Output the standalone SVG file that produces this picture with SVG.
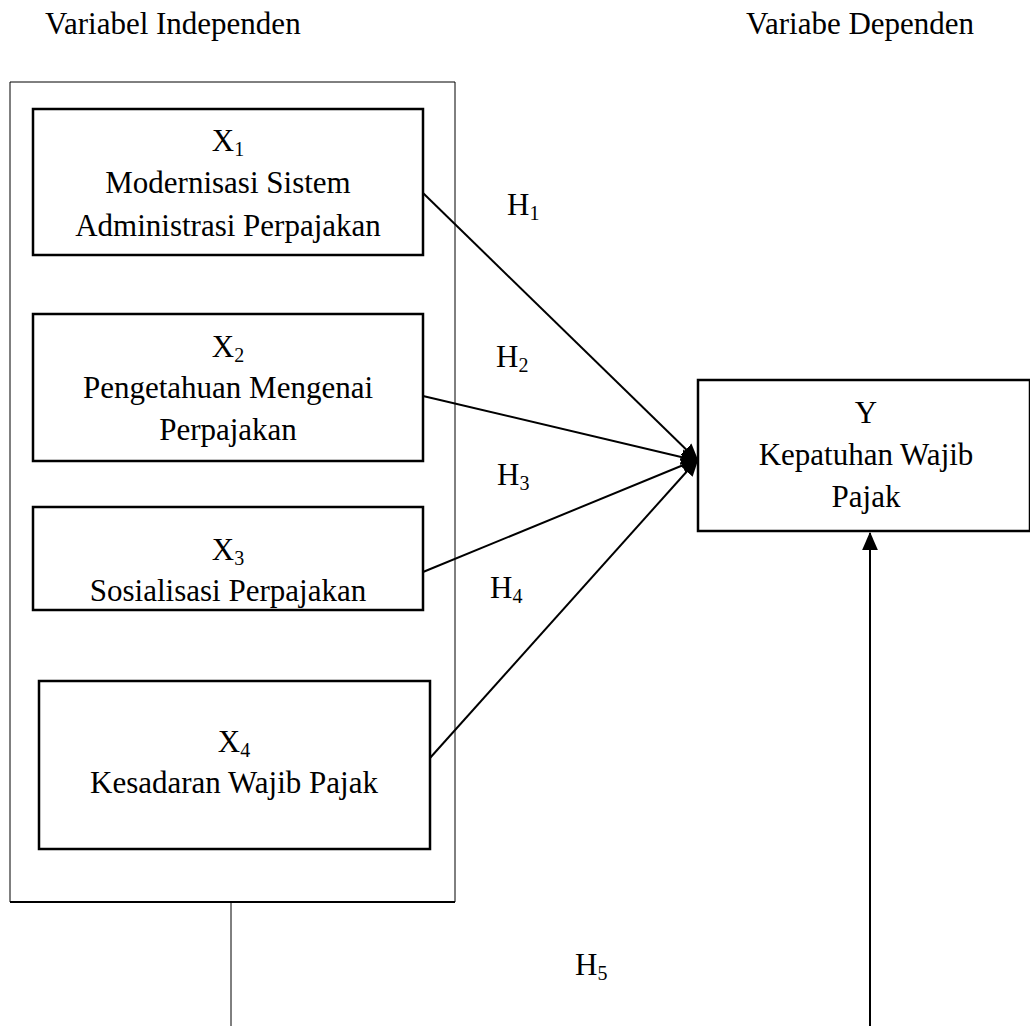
<svg xmlns="http://www.w3.org/2000/svg" width="1030" height="1026" viewBox="0 0 1030 1026">
<style>
text{font-family:"Liberation Serif","Times New Roman",serif;font-size:31px;fill:#000}
.c{text-anchor:middle}
.sub{font-size:20px}
.box{fill:#fff;stroke:#000;stroke-width:2.5}
.con{fill:none;stroke:#000;stroke-width:2}
</style>
<defs>
<marker id="ah" markerUnits="userSpaceOnUse" markerWidth="18" markerHeight="18" viewBox="0 0 16 16" refX="15" refY="8" orient="auto">
<path d="M0,1 L16,8 L0,15 Z" fill="#000"/>
</marker>
</defs>
<rect width="1030" height="1026" fill="#fff"/>
<g id="headers">
<text x="45" y="34">Variabel Independen</text>
<text x="746" y="34">Variabe Dependen</text>
</g>
<g id="group-independen">
<path d="M10,902 L10,82 L455,82 L455,902" fill="none" stroke="#000" stroke-width="1"/>
<line x1="10" y1="902" x2="455" y2="902" stroke="#000" stroke-width="2"/>
</g>
<g id="x1">
<rect class="box" x="33" y="109" width="390" height="146"/>
<text class="c" x="228" y="151">X<tspan class="sub" dy="5">1</tspan></text>
<text class="c" x="228" y="193">Modernisasi Sistem</text>
<text class="c" x="228" y="236">Administrasi Perpajakan</text>
</g>
<g id="x2">
<rect class="box" x="33" y="314" width="390" height="147"/>
<text class="c" x="228" y="357">X<tspan class="sub" dy="5">2</tspan></text>
<text class="c" x="228" y="398">Pengetahuan Mengenai</text>
<text class="c" x="228" y="440">Perpajakan</text>
</g>
<g id="x3">
<rect class="box" x="33" y="507" width="390" height="103"/>
<text class="c" x="228" y="560">X<tspan class="sub" dy="5">3</tspan></text>
<text class="c" x="228" y="601">Sosialisasi Perpajakan</text>
</g>
<g id="x4">
<rect class="box" x="39" y="681" width="391" height="168"/>
<text class="c" x="234" y="752">X<tspan class="sub" dy="5">4</tspan></text>
<text class="c" x="234" y="793">Kesadaran Wajib Pajak</text>
</g>
<g id="y">
<rect class="box" x="698" y="380" width="332" height="151"/>
<text class="c" x="866" y="423">Y</text>
<text class="c" x="866" y="465">Kepatuhan Wajib</text>
<text class="c" x="866" y="507">Pajak</text>
</g>
<g id="connectors">
<line class="con" x1="423" y1="193" x2="698" y2="461" marker-end="url(#ah)"/>
<line class="con" x1="423" y1="396" x2="698" y2="461" marker-end="url(#ah)"/>
<line class="con" x1="423" y1="572" x2="698" y2="459" marker-end="url(#ah)"/>
<line class="con" x1="430" y1="758" x2="698" y2="459" marker-end="url(#ah)"/>
<line x1="231" y1="903" x2="231" y2="1026" stroke="#000" stroke-width="1"/>
<line class="con" x1="870" y1="1026" x2="870" y2="533" marker-end="url(#ah)"/>
</g>
<g id="labels">
<text x="507" y="215">H<tspan class="sub" dy="5">1</tspan></text>
<text x="496" y="367">H<tspan class="sub" dy="5">2</tspan></text>
<text x="497" y="485">H<tspan class="sub" dy="5">3</tspan></text>
<text x="490" y="598">H<tspan class="sub" dy="5">4</tspan></text>
<text x="575" y="975">H<tspan class="sub" dy="5">5</tspan></text>
</g>
</svg>
